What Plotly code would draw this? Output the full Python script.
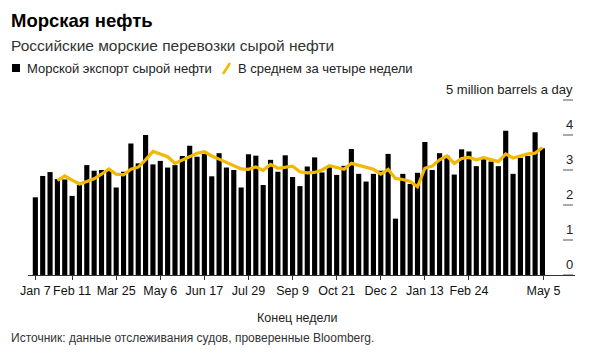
import pandas as pd
import plotly.graph_objects as go

# ---- data ----
weeks = pd.date_range("2023-01-07", periods=70, freq="7D")
exports = [2.22, 2.83, 2.94, 2.74, 2.73, 2.26, 2.57, 3.14, 2.98, 3.00,
           3.02, 2.50, 2.95, 3.76, 3.19, 4.00, 3.16, 3.26, 3.07, 3.14,
           3.40, 3.69, 3.38, 3.46, 2.82, 3.48, 3.07, 3.00, 2.50, 3.45,
           3.41, 2.57, 3.29, 2.95, 3.42, 2.80, 2.54, 3.10, 3.36, 2.93,
           3.08, 2.86, 3.12, 3.60, 2.89, 2.67, 2.89, 2.98, 3.46, 1.61,
           2.89, 2.60, 2.92, 3.80, 3.00, 3.48, 3.41, 2.87, 3.59, 3.53,
           3.11, 3.32, 3.24, 3.11, 4.12, 2.89, 3.35, 3.40, 4.08, 3.62]
avg_weeks = weeks[3:]
avg4 = [2.70, 2.83, 2.71, 2.60, 2.67, 2.75, 2.88, 3.03, 2.88, 2.86,
        3.02, 3.08, 3.29, 3.53, 3.46, 3.38, 3.19, 3.29, 3.40, 3.48,
        3.52, 3.40, 3.31, 3.22, 3.11, 3.03, 3.02, 3.09, 2.99, 3.16,
        3.05, 3.07, 3.11, 2.95, 2.92, 2.93, 3.00, 3.12, 3.08, 3.02,
        3.19, 3.14, 3.08, 3.02, 2.88, 3.02, 2.76, 2.73, 2.67, 2.52,
        3.05, 3.11, 3.29, 3.40, 3.19, 3.33, 3.36, 3.29, 3.35, 3.29,
        3.24, 3.46, 3.34, 3.40, 3.46, 3.48, 3.64]
tick_dates = ["2023-01-07", "2023-02-11", "2023-03-25", "2023-05-06", "2023-06-17",
              "2023-07-29", "2023-09-09", "2023-10-21", "2023-12-02", "2024-01-13",
              "2024-02-24", "2024-05-05"]
tick_labels = ["Jan 7", "Feb 11", "Mar 25", "May 6", "Jun 17", "Jul 29", "Sep 9",
               "Oct 21", "Dec 2", "Jan 13", "Feb 24", "May 5"]
y_ticks = [0, 1, 2, 3, 4, 5]
y_labels = ["0", "1", "2", "3", "4", "5 million barrels a day"]

OFF = 8  # page body margin
W, H = 594 - OFF, 363 - OFF
ML, MR, MT, MB = 28 - OFF, 19, 93 - OFF, 88
PW, PH = W - ML - MR, H - MT - MB
FONT = "Liberation Sans, Arial, sans-serif"
YELLOW = "#f5b800"


def px(x):
    return (x - OFF - ML) / PW


def py(y):
    return (H + OFF - MB - y) / PH


fig = go.Figure()
fig.add_trace(go.Bar(x=weeks, y=exports, marker=dict(color="#000000", line=dict(width=0)),
                     name="Морской экспорт сырой нефти", showlegend=False))
fig.add_trace(go.Scatter(x=avg_weeks, y=avg4, mode="lines",
                         line=dict(color=YELLOW, width=3.2),
                         name="В среднем за четыре недели", showlegend=False))

shapes = []
annotations = []
for v, lab in zip(y_ticks, y_labels):
    shapes.append(dict(type="line", xref="paper", yref="y", x0=px(563), x1=px(573),
                       y0=v, y1=v, line=dict(color="#555555", width=1)))
    annotations.append(dict(xref="paper", yref="y", x=px(575), y=v, text=lab,
                            showarrow=False, xanchor="right", yanchor="bottom", yshift=1,
                            font=dict(family=FONT, size=13, color="#222222")))

# titles
annotations.append(dict(xref="paper", yref="paper", x=px(9), y=py(20), text="<b>Морская нефть</b>",
                        showarrow=False, xanchor="left", yanchor="middle",
                        font=dict(family=FONT, size=18.5, color="#000000")))
annotations.append(dict(xref="paper", yref="paper", x=px(9), y=py(45),
                        text="Российские морские перевозки сырой нефти",
                        showarrow=False, xanchor="left", yanchor="middle",
                        font=dict(family=FONT, size=15.5, color="#333333")))
# legend
shapes.append(dict(type="rect", xref="paper", yref="paper", x0=px(12), x1=px(20),
                   y0=py(72), y1=py(64), fillcolor="#000000", line=dict(width=0)))
annotations.append(dict(xref="paper", yref="paper", x=px(25), y=py(68),
                        text="Морской экспорт сырой нефти",
                        showarrow=False, xanchor="left", yanchor="middle",
                        font=dict(family=FONT, size=13, color="#222222")))
shapes.append(dict(type="line", xref="paper", yref="paper", x0=px(223), x1=px(230),
                   y0=py(74), y1=py(63), line=dict(color=YELLOW, width=2.5)))
annotations.append(dict(xref="paper", yref="paper", x=px(236), y=py(68),
                        text="В среднем за четыре недели",
                        showarrow=False, xanchor="left", yanchor="middle",
                        font=dict(family=FONT, size=13, color="#222222")))
# x-axis title and source
annotations.append(dict(xref="paper", yref="paper", x=px(297), y=py(318),
                        text="Конец недели",
                        showarrow=False, xanchor="center", yanchor="middle",
                        font=dict(family=FONT, size=12.5, color="#222222")))
annotations.append(dict(xref="paper", yref="paper", x=px(9), y=py(338),
                        text="Источник: данные отслеживания судов, проверенные Bloomberg.",
                        showarrow=False, xanchor="left", yanchor="middle",
                        font=dict(family=FONT, size=12, color="#333333")))

fig.update_layout(
    width=W, height=H,
    margin=dict(l=ML, r=MR, t=MT, b=MB),
    paper_bgcolor="white", plot_bgcolor="white",
    bargap=0.3,
    font=dict(family=FONT, size=12, color="#222222"),
    xaxis=dict(type="date", range=["2022-12-31", "2024-06-04"],
               tickvals=tick_dates, ticktext=tick_labels, tickangle=0,
               ticks="outside", ticklen=4, tickcolor="#333333",
               showline=True, linecolor="#333333", linewidth=1,
               showgrid=False, zeroline=False,
               tickfont=dict(family=FONT, size=12.5, color="#111111")),
    yaxis=dict(range=[0, 5.2], showticklabels=False, showgrid=False,
               zeroline=False, showline=False, ticks=""),
    shapes=shapes, annotations=annotations,
    showlegend=False,
)

fig.write_html("out.html")
